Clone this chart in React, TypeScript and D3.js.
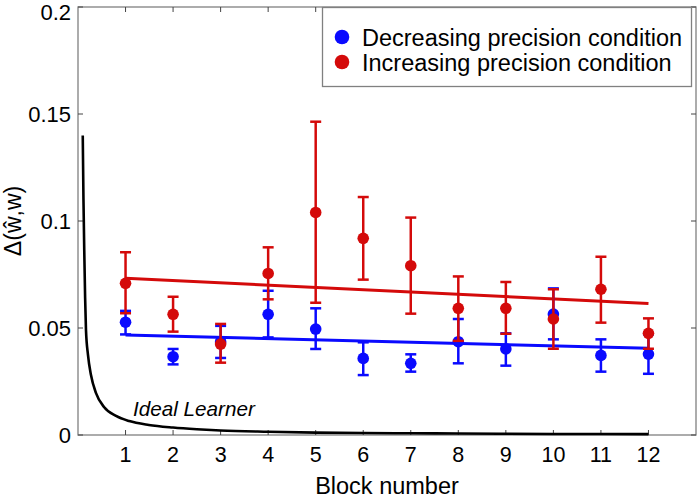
import React from "react";
import * as d3 from "d3";

const blocks = [1, 2, 3, 4, 5, 6, 7, 8, 9, 10, 11, 12];
const blueMean = [0.0527, 0.0366, 0.0435, 0.0564, 0.0495, 0.0358, 0.0335, 0.0436, 0.0402, 0.0565, 0.0372, 0.0378];
const blueHi = [0.058, 0.0402, 0.051, 0.0674, 0.0592, 0.0433, 0.0377, 0.0542, 0.0475, 0.0685, 0.0447, 0.047];
const blueLo = [0.047, 0.033, 0.036, 0.0456, 0.0402, 0.028, 0.0296, 0.0335, 0.0324, 0.0447, 0.0296, 0.0286];
const redMean = [0.0709, 0.0564, 0.0425, 0.0755, 0.104, 0.0919, 0.0791, 0.0592, 0.0592, 0.0542, 0.0681, 0.0475];
const redHi = [0.0854, 0.0646, 0.0519, 0.0877, 0.1464, 0.1112, 0.1016, 0.0741, 0.0715, 0.0681, 0.0833, 0.0545];
const redLo = [0.0569, 0.0483, 0.0338, 0.0634, 0.0618, 0.0726, 0.0567, 0.044, 0.0473, 0.0403, 0.0525, 0.0403];
const fitX = [1, 12];
const blueFit = [0.0467, 0.0405];
const redFit = [0.0732, 0.0615];
const idealX = [0.1, 0.115, 0.135, 0.15, 0.168, 0.21, 0.273, 0.379, 0.547, 0.8, 1.077, 1.49, 2, 2.5, 3, 4, 5, 6, 7, 8, 9, 10, 11, 12];
const idealY = [0.14, 0.11, 0.082, 0.064, 0.049, 0.0374, 0.028, 0.0196, 0.0131, 0.0089, 0.0065, 0.0047, 0.0035, 0.0027, 0.0021, 0.0015, 0.0011, 0.0009, 0.0008, 0.0007, 0.0006, 0.0005, 0.0005, 0.0004];
const yTicks = [0, 0.05, 0.1, 0.15, 0.2];
const yTickLabels = ["0", "0.05", "0.1", "0.15", "0.2"];
const legendLabels = ["Decreasing precision condition", "Increasing precision condition"];

const BLUE = "#0a0aff";
const RED = "#d40a0a";
const FONT = "'Liberation Sans', Arial, Helvetica, sans-serif";

export default function App() {
  const W = 697, H = 499;
  const x = d3.scaleLinear().domain([0, 13]).range([78, 696]);
  const y = d3.scaleLinear().domain([0, 0.2]).range([435, 7]);
  const line = d3.line<[number, number]>().x(d => x(d[0])).y(d => y(d[1]));
  const curve = d3.line<[number, number]>().x(d => x(d[0])).y(d => y(d[1])).curve(d3.curveMonotoneX);
  const series = [
    { mean: blueMean, hi: blueHi, lo: blueLo, fit: blueFit, color: BLUE },
    { mean: redMean, hi: redHi, lo: redLo, fit: redFit, color: RED },
  ];
  const [x0, x1] = x.range();
  const [y0, y1] = y.range();
  const tl = 5;
  return (
    <svg width={W} height={H} style={{ position: "absolute", left: 0, top: 0, background: "#fff" }} fontFamily={FONT}>
      <rect x={0} y={0} width={W} height={H} fill="#fff" />
      <rect x={x0} y={y1} width={x1 - x0} height={y0 - y1} fill="none" stroke="#808080" strokeWidth={1.3} />
      {blocks.map(b => (
        <g key={"xt" + b}>
          <line x1={x(b)} x2={x(b)} y1={y0} y2={y0 - tl} stroke="#444" strokeWidth={1} />
          <line x1={x(b)} x2={x(b)} y1={y1} y2={y1 + tl} stroke="#444" strokeWidth={1} />
          <text x={x(b)} y={462} textAnchor="middle" fontSize={21.5} fill="#000">{b}</text>
        </g>
      ))}
      {yTicks.map((t, i) => (
        <g key={"yt" + i}>
          <line x1={x0} x2={x0 + tl} y1={y(t)} y2={y(t)} stroke="#444" strokeWidth={1} />
          <line x1={x1} x2={x1 - tl} y1={y(t)} y2={y(t)} stroke="#444" strokeWidth={1} />
          <text x={71} y={Math.max(y(t) + 7.7, 19.5)} textAnchor="end" fontSize={22} fill="#000">{yTickLabels[i]}</text>
        </g>
      ))}
      <text x={387} y={494} textAnchor="middle" fontSize={23.5} fill="#000">Block number</text>
      <text transform={`translate(21,${(y0 + y1) / 2}) rotate(-90)`} textAnchor="middle" fontSize={23} fill="#000">Δ(ŵ,w)</text>

      <path d={curve(idealX.map((v, i) => [v, idealY[i]] as [number, number])) || ""} fill="none" stroke="#000" strokeWidth={2.6} />
      <text x={133} y={416} fontSize={20.7} fontStyle="italic" fill="#000">Ideal Learner</text>

      {series.map((s, si) => (
        <path key={"fit" + si} d={line(fitX.map((v, i) => [v, s.fit[i]] as [number, number])) || ""} stroke={s.color} strokeWidth={3} fill="none" />
      ))}
      {series.map((s, si) => (
        <g key={"s" + si}>
          {blocks.map((b, i) => (
            <g key={b}>
              <line x1={x(b)} x2={x(b)} y1={y(s.lo[i])} y2={y(s.hi[i])} stroke={s.color} strokeWidth={2.5} />
              <line x1={x(b) - 5.5} x2={x(b) + 5.5} y1={y(s.lo[i])} y2={y(s.lo[i])} stroke={s.color} strokeWidth={2.5} />
              <line x1={x(b) - 5.5} x2={x(b) + 5.5} y1={y(s.hi[i])} y2={y(s.hi[i])} stroke={s.color} strokeWidth={2.5} />
              <circle cx={x(b)} cy={y(s.mean[i])} r={5.8} fill={s.color} />
            </g>
          ))}
        </g>
      ))}

      <rect x={322.5} y={7.5} width={369} height={79} fill="#fff" stroke="#808080" strokeWidth={1.3} />
      {legendLabels.map((l, i) => (
        <g key={l}>
          <circle cx={342} cy={37 + i * 25} r={7.3} fill={i === 0 ? BLUE : RED} />
          <text x={362} y={45.5 + i * 25} fontSize={23.5} fill="#000">{l}</text>
        </g>
      ))}
    </svg>
  );
}
